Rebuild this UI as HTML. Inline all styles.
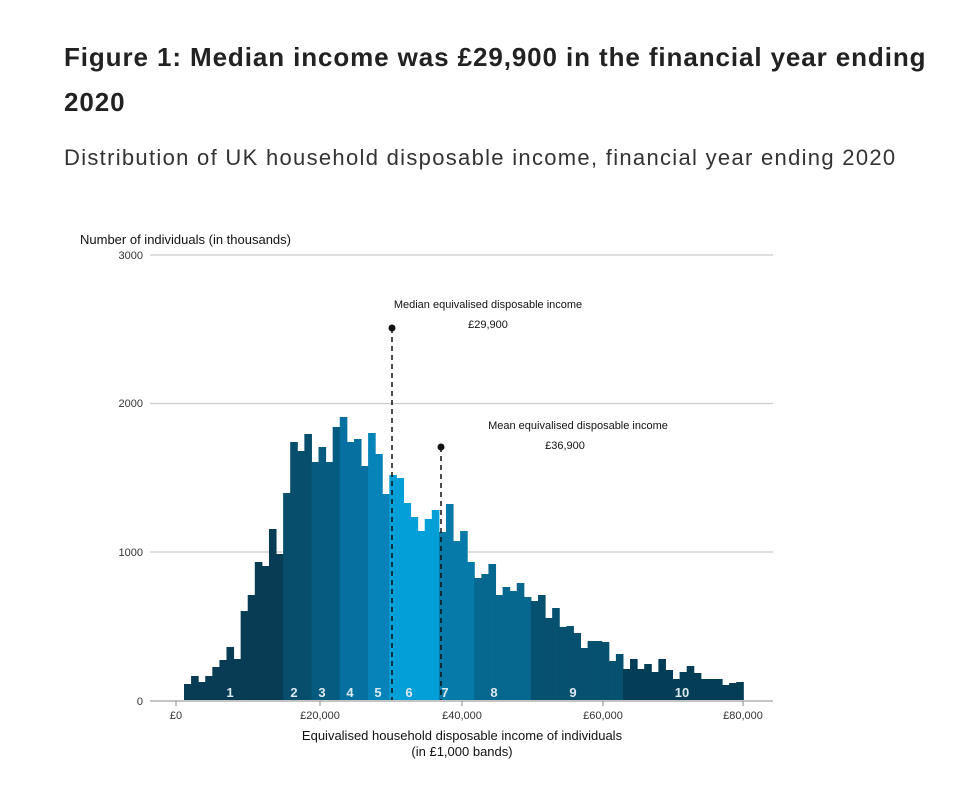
<!DOCTYPE html>
<html><head><meta charset="utf-8"><style>
body{margin:0;background:#fff;width:960px;height:789px;overflow:hidden}
.t{position:absolute;left:64px;font-family:"Liberation Sans",sans-serif;color:#222}
</style></head><body>
<div class="t" style="top:35px;font-size:26px;font-weight:bold;line-height:45px;width:880px;letter-spacing:0.9px">Figure 1: Median income was £29,900 in the financial year ending<br>2020</div>
<div class="t" style="top:145px;font-size:22px;color:#333;letter-spacing:1.3px;white-space:nowrap">Distribution of UK household disposable income, financial year ending 2020</div>
<svg width="960" height="789" style="position:absolute;left:0;top:0" font-family="Liberation Sans, sans-serif">
<g stroke="#ccc" stroke-width="1.2">
<line x1="150" x2="773" y1="255" y2="255"/><line x1="150" x2="773" y1="403.5" y2="403.5"/><line x1="150" x2="773" y1="552" y2="552"/>
</g>
<g font-size="11" fill="#333" text-anchor="end">
<text x="143" y="259">3000</text><text x="143" y="407">2000</text><text x="143" y="556">1000</text><text x="143" y="705">0</text>
</g>
<text x="80" y="244" font-size="13" fill="#111">Number of individuals (in thousands)</text>
<g id="bars"></g>
<line x1="150" x2="773" y1="701" y2="701" stroke="#888"/>
<g stroke="#888"><line x1="176" x2="176" y1="701" y2="706"/><line x1="320" x2="320" y1="701" y2="706"/><line x1="462" x2="462" y1="701" y2="706"/><line x1="603" x2="603" y1="701" y2="706"/><line x1="743" x2="743" y1="701" y2="706"/></g>
<g font-size="11" fill="#333" text-anchor="middle">
<text x="176" y="719">£0</text><text x="320" y="719">£20,000</text><text x="462" y="719">£40,000</text><text x="603" y="719">£60,000</text><text x="743" y="719">£80,000</text>
</g>
<g font-size="13" fill="#111" text-anchor="middle">
<text x="462" y="740">Equivalised household disposable income of individuals</text>
<text x="462" y="756">(in £1,000 bands)</text>
</g>
<g stroke="#111" stroke-width="1.5" stroke-dasharray="5,4"><line x1="392" x2="392" y1="328" y2="700"/><line x1="441" x2="441" y1="447" y2="700"/></g>
<circle cx="392" cy="328" r="3.5" fill="#111"/><circle cx="441" cy="447" r="3.5" fill="#111"/>
<g font-size="11" fill="#111" text-anchor="middle">
<text x="488" y="308">Median equivalised disposable income</text><text x="488" y="328">£29,900</text>
<text x="578" y="429">Mean equivalised disposable income</text><text x="565" y="449">£36,900</text>
</g>
<g font-size="13" font-weight="bold" fill="#dde9f0" text-anchor="middle">
<text x="230" y="697">1</text><text x="294" y="697">2</text><text x="322" y="697">3</text><text x="350" y="697">4</text><text x="378" y="697">5</text><text x="409" y="697">6</text><text x="445" y="697">7</text><text x="494" y="697">8</text><text x="573" y="697">9</text><text x="682" y="697">10</text>
</g>
</svg>
<script>
var h=[16,24,18,24,33,40,53,41,89,105,138,134,171,146,207,258,249,266,238,253,238,273,283,258,261,234,267,246,206,225,222,197,183,169,181,190,168,196,159,169,138,122,126,136,105,113,109,117,103,99,105,82,92,73,74,67,52,59,59,58,39,46,31,41,31,36,28,41,30,21,28,34,27,21,21,21,15,17,18];
var d=[[14,'#073c54'],[18,'#074e6c'],[22,'#065b80'],[26,'#0670a0'],[29,'#0684ba'],[36,'#029fd8'],[41,'#067aa9'],[49,'#06678f'],[62,'#06516f'],[79,'#043e56']];
var s='';
for(var i=0;i<h.length;i++){var c;for(var j=0;j<d.length;j++){if(i+1<=d[j][0]){c=d[j][1];break;}}
var x=184+7.08*i;s+='<rect x="'+x.toFixed(2)+'" y="'+(700-h[i])+'" width="7.6" height="'+h[i]+'" fill="'+c+'"/>';}
document.getElementById('bars').innerHTML=s;
</script>
</body></html>
